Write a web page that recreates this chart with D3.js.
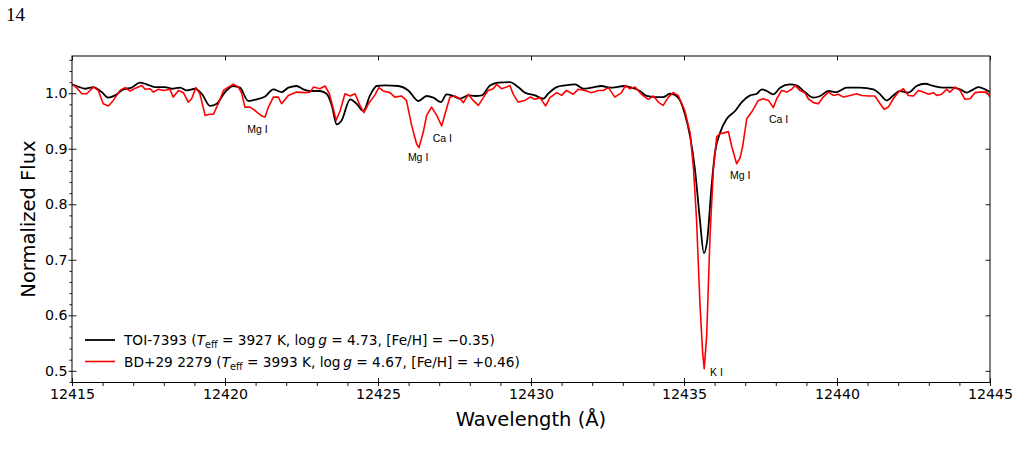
<!DOCTYPE html>
<html>
<head>
<meta charset="utf-8">
<script src="https://cdn.jsdelivr.net/npm/d3@7"></script>
<style>
    body { margin: 0; background: #ffffff; }
    svg text { font-family: "DejaVu Sans", sans-serif; }
</style>
</head>
<body>
<div id="spectrum-plot"></div>
<script>
// Spectra: [wavelength (Å), normalized flux]
const toiSpectrum = [
    [12415.00, 1.016], [12415.15, 1.013], [12415.43, 1.008], [12415.70, 1.011], [12415.97, 1.002],
    [12416.19, 0.992], [12416.41, 0.996], [12416.68, 1.007], [12416.95, 1.010], [12417.22, 1.019],
    [12417.44, 1.016], [12417.71, 1.011], [12418.04, 1.011], [12418.26, 1.008], [12418.53, 1.010],
    [12418.75, 1.005], [12419.02, 1.008], [12419.24, 0.999], [12419.51, 0.977], [12419.73, 0.981],
    [12420.00, 1.002], [12420.27, 1.013], [12420.49, 1.010], [12420.76, 0.986], [12421.04, 0.989],
    [12421.31, 0.994], [12421.58, 1.007], [12421.85, 1.002], [12422.07, 1.010], [12422.34, 1.013],
    [12422.56, 1.007], [12422.78, 1.004], [12423.10, 1.004], [12423.32, 0.999], [12423.49, 0.978],
    [12423.65, 0.944], [12423.81, 0.951], [12424.09, 0.989], [12424.30, 0.981], [12424.52, 0.968],
    [12424.74, 0.996], [12424.96, 1.013], [12425.23, 1.014], [12425.66, 1.013], [12425.99, 1.005],
    [12426.32, 0.986], [12426.59, 0.995], [12426.81, 0.992], [12427.06, 0.984], [12427.24, 0.998],
    [12427.46, 0.995], [12427.68, 0.990], [12427.95, 0.996], [12428.17, 0.995], [12428.39, 0.996],
    [12428.66, 1.014], [12428.93, 1.019], [12429.31, 1.020], [12429.58, 1.011], [12429.80, 1.001],
    [12430.13, 0.996], [12430.40, 0.990], [12430.56, 0.999], [12430.84, 1.011], [12431.11, 1.014],
    [12431.44, 1.016], [12431.71, 1.008], [12431.98, 1.010], [12432.31, 1.013], [12432.58, 1.010],
    [12432.80, 1.011], [12433.02, 1.013], [12433.29, 1.010], [12433.56, 1.004], [12433.78, 0.995],
    [12434.05, 0.993], [12434.32, 0.993], [12434.54, 0.999], [12434.70, 0.997], [12434.87, 0.987],
    [12435.03, 0.962], [12435.20, 0.922], [12435.36, 0.862], [12435.52, 0.772], [12435.65, 0.712],
    [12435.76, 0.736], [12435.90, 0.832], [12436.01, 0.892], [12436.18, 0.929], [12436.40, 0.954],
    [12436.67, 0.968], [12436.89, 0.984], [12437.16, 0.996], [12437.38, 0.999], [12437.54, 1.007],
    [12437.70, 1.004], [12437.92, 0.998], [12438.14, 1.010], [12438.46, 1.016], [12438.68, 1.014],
    [12438.95, 1.002], [12439.23, 0.992], [12439.45, 0.995], [12439.72, 1.004], [12439.99, 1.002],
    [12440.32, 1.010], [12440.75, 1.010], [12441.19, 1.007], [12441.41, 0.998], [12441.62, 0.987],
    [12441.84, 0.996], [12442.06, 1.004], [12442.33, 1.001], [12442.60, 1.013], [12442.88, 1.017],
    [12443.15, 1.013], [12443.48, 1.010], [12443.80, 1.010], [12444.02, 1.007], [12444.24, 1.001],
    [12444.40, 1.005], [12444.62, 1.011], [12444.84, 1.007], [12445.00, 1.002]
];

const bdSpectrum = [
    [12415.00, 1.016], [12415.15, 1.010], [12415.32, 0.999], [12415.48, 0.999], [12415.70, 1.011],
    [12415.86, 1.005], [12416.02, 0.981], [12416.19, 0.977], [12416.35, 0.987], [12416.57, 1.005],
    [12416.73, 1.010], [12416.90, 1.004], [12417.11, 1.010], [12417.28, 1.014], [12417.39, 1.007],
    [12417.55, 1.008], [12417.66, 1.002], [12417.82, 1.007], [12417.99, 1.005], [12418.20, 1.007],
    [12418.31, 0.993], [12418.48, 1.005], [12418.64, 1.001], [12418.80, 0.984], [12418.91, 0.990],
    [12419.05, 1.010], [12419.18, 0.999], [12419.35, 0.960], [12419.51, 0.962], [12419.62, 0.962],
    [12419.78, 0.981], [12419.95, 1.005], [12420.11, 1.011], [12420.27, 1.016], [12420.44, 1.011],
    [12420.55, 0.999], [12420.65, 0.975], [12420.82, 0.975], [12420.93, 0.971], [12421.04, 0.966],
    [12421.20, 0.959], [12421.31, 0.957], [12421.42, 0.975], [12421.58, 0.993], [12421.74, 0.993],
    [12421.85, 0.981], [12422.07, 0.996], [12422.34, 1.002], [12422.61, 1.001], [12422.78, 1.002],
    [12422.89, 1.011], [12423.10, 1.008], [12423.27, 1.013], [12423.41, 0.999], [12423.54, 0.972],
    [12423.63, 0.951], [12423.76, 0.968], [12423.92, 0.999], [12424.09, 0.995], [12424.25, 0.999],
    [12424.41, 0.978], [12424.54, 0.965], [12424.69, 0.981], [12424.90, 0.997], [12425.03, 1.010],
    [12425.17, 1.004], [12425.39, 1.001], [12425.55, 0.993], [12425.77, 0.995], [12425.93, 0.987],
    [12426.10, 0.942], [12426.26, 0.909], [12426.34, 0.902], [12426.48, 0.930], [12426.59, 0.960],
    [12426.75, 0.975], [12426.92, 0.960], [12427.08, 0.941], [12427.21, 0.966], [12427.35, 0.993],
    [12427.51, 0.995], [12427.68, 0.990], [12427.79, 0.983], [12427.95, 0.998], [12428.11, 0.987],
    [12428.28, 0.978], [12428.44, 0.992], [12428.60, 1.005], [12428.77, 1.008], [12428.88, 1.016],
    [12429.04, 1.008], [12429.20, 1.011], [12429.31, 1.014], [12429.42, 0.998], [12429.58, 0.984],
    [12429.80, 0.987], [12429.97, 0.993], [12430.13, 0.989], [12430.29, 0.992], [12430.48, 0.977],
    [12430.62, 0.992], [12430.84, 1.001], [12431.00, 0.996], [12431.16, 1.005], [12431.38, 0.998],
    [12431.54, 1.007], [12431.76, 1.005], [12431.98, 1.001], [12432.20, 1.005], [12432.36, 1.005],
    [12432.53, 1.010], [12432.74, 0.993], [12432.96, 1.001], [12433.09, 1.014], [12433.23, 1.008],
    [12433.40, 1.011], [12433.61, 0.998], [12433.83, 0.989], [12434.00, 0.995], [12434.16, 0.984],
    [12434.32, 0.978], [12434.49, 0.993], [12434.65, 1.001], [12434.81, 0.996], [12435.03, 0.968],
    [12435.20, 0.928], [12435.31, 0.864], [12435.41, 0.772], [12435.52, 0.622], [12435.61, 0.532],
    [12435.66, 0.504], [12435.74, 0.562], [12435.85, 0.742], [12435.96, 0.862], [12436.07, 0.922],
    [12436.18, 0.927], [12436.34, 0.929], [12436.45, 0.931], [12436.56, 0.904], [12436.72, 0.873],
    [12436.83, 0.883], [12436.92, 0.905], [12437.05, 0.954], [12437.21, 0.966], [12437.43, 0.987],
    [12437.59, 0.990], [12437.76, 0.987], [12437.92, 0.974], [12438.03, 0.990], [12438.19, 1.005],
    [12438.36, 1.002], [12438.52, 1.007], [12438.63, 1.014], [12438.79, 1.005], [12438.95, 1.001],
    [12439.06, 0.990], [12439.23, 0.983], [12439.39, 0.981], [12439.55, 0.993], [12439.72, 1.002],
    [12439.88, 0.996], [12440.04, 0.998], [12440.21, 0.993], [12440.43, 0.996], [12440.64, 0.999],
    [12440.81, 0.996], [12441.02, 0.995], [12441.24, 0.995], [12441.41, 0.981], [12441.54, 0.971],
    [12441.68, 0.975], [12441.84, 0.990], [12442.01, 1.002], [12442.17, 1.008], [12442.33, 0.996],
    [12442.50, 0.995], [12442.66, 1.005], [12442.82, 1.002], [12442.99, 0.998], [12443.15, 1.001],
    [12443.26, 0.996], [12443.42, 0.998], [12443.58, 1.007], [12443.69, 1.002], [12443.86, 1.011],
    [12444.02, 1.005], [12444.18, 0.989], [12444.35, 0.990], [12444.51, 1.001], [12444.67, 1.002],
    [12444.89, 1.002], [12445.00, 0.993]
];

// Legend entries
const starNames = ['TOI-7393', 'BD+29 2279'];
const starTeff = ['3927', '3993'];
const starLogg = ['4.73', '4.67'];
const starFeH = ['\u22120.35', '+0.46'];
const starColors = ['#000000', '#ff0000'];

// Line identifications (placed in data coordinates)
const lineIds = ['Mg I', 'Mg I', 'Ca I', 'K I', 'Mg I', 'Ca I'];
const lineIdWave = [12421.06, 12426.31, 12427.10, 12436.06, 12436.84, 12438.09];
const lineIdFlux = [0.929, 0.878, 0.912, 0.4905, 0.846, 0.9465];

// Axes
const xDomain = [12415, 12445];
const yDomain = [0.479, 1.067];
const xMajorTicks = [12415, 12420, 12425, 12430, 12435, 12440, 12445];
const yMajorTicks = [0.5, 0.6, 0.7, 0.8, 0.9, 1.0];
const pageNumber = '14';

function createSpectrumPlot({
    width = 1029,
    height = 469,
    margin = { top: 56, right: 39, bottom: 86.5, left: 72 },
    container = '#spectrum-plot'
} = {}) {
    d3.select(container).selectAll('*').remove();

    const innerWidth = width - margin.left - margin.right;
    const innerHeight = height - margin.top - margin.bottom;

    const root = d3.select(container)
        .append('svg')
        .attr('width', width)
        .attr('height', height);

    // Page number of the paper
    root.append('text')
        .attr('x', 6)
        .attr('y', 20.5)
        .style('font-family', '"Liberation Serif", "DejaVu Serif", serif')
        .style('font-size', '19px')
        .text(pageNumber);

    const svg = root.append('g')
        .attr('transform', `translate(${margin.left},${margin.top})`);

    const xScale = d3.scaleLinear().domain(xDomain).range([0, innerWidth]);
    const yScale = d3.scaleLinear().domain(yDomain).range([innerHeight, 0]);

    // minor ticks: every 1 Å and every 0.02 in flux
    const xMinorTicks = d3.range(xDomain[0], xDomain[1] + 0.5, 1).filter(v => v % 5 !== 0);
    const yMinorTicks = d3.range(0.48, 1.067, 0.02).map(v => +v.toFixed(2))
        .filter(v => Math.abs(v * 10 - Math.round(v * 10)) > 1e-6);

    const styleAxis = g => {
        g.select('.domain').remove();
        g.selectAll('line').attr('stroke', '#000').attr('stroke-width', 0.9);
        g.attr('font-family', '"DejaVu Sans", sans-serif').attr('font-size', 14.2);
        g.selectAll('text').attr('fill', '#000');
    };

    // Bottom axis: labels + outward part of major ticks
    svg.append('g')
        .attr('transform', `translate(0,${innerHeight})`)
        .call(d3.axisBottom(xScale).tickValues(xMajorTicks).tickSize(3.5).tickPadding(2.5)
            .tickFormat(d3.format('d')))
        .call(styleAxis);
    // inward part of major ticks
    svg.append('g')
        .attr('transform', `translate(0,${innerHeight})`)
        .call(d3.axisBottom(xScale).tickValues(xMajorTicks).tickSize(-4.5).tickFormat(''))
        .call(styleAxis);
    // minor ticks
    svg.append('g')
        .attr('transform', `translate(0,${innerHeight})`)
        .call(d3.axisBottom(xScale).tickValues(xMinorTicks).tickSize(3.5).tickFormat(''))
        .call(styleAxis);
    // top ticks
    svg.append('g')
        .call(d3.axisTop(xScale).tickValues(xMajorTicks).tickSize(-4.5).tickFormat(''))
        .call(styleAxis);

    // Left axis
    svg.append('g')
        .call(d3.axisLeft(yScale).tickValues(yMajorTicks).tickSize(3.5).tickPadding(1)
            .tickFormat(d3.format('.1f')))
        .call(styleAxis);
    svg.append('g')
        .call(d3.axisLeft(yScale).tickValues(yMajorTicks).tickSize(-4.5).tickFormat(''))
        .call(styleAxis);
    svg.append('g')
        .call(d3.axisLeft(yScale).tickValues(yMinorTicks).tickSize(2.5).tickFormat(''))
        .call(styleAxis);
    // right ticks
    svg.append('g')
        .attr('transform', `translate(${innerWidth},0)`)
        .call(d3.axisRight(yScale).tickValues(yMajorTicks).tickSize(-4.5).tickFormat(''))
        .call(styleAxis);

    // Clip spectra to plot area
    svg.append('clipPath')
        .attr('id', 'plot-clip')
        .append('rect')
        .attr('width', innerWidth)
        .attr('height', innerHeight);

    const smoothLine = d3.line()
        .x(d => xScale(d[0]))
        .y(d => yScale(d[1]))
        .curve(d3.curveMonotoneX);

    const rawLine = d3.line()
        .x(d => xScale(d[0]))
        .y(d => yScale(d[1]));

    svg.append('path')
        .datum(toiSpectrum)
        .attr('clip-path', 'url(#plot-clip)')
        .attr('fill', 'none')
        .attr('stroke', starColors[0])
        .attr('stroke-width', 1.8)
        .attr('stroke-linejoin', 'round')
        .attr('d', smoothLine);

    svg.append('path')
        .datum(bdSpectrum)
        .attr('clip-path', 'url(#plot-clip)')
        .attr('fill', 'none')
        .attr('stroke', starColors[1])
        .attr('stroke-width', 1.6)
        .attr('stroke-linejoin', 'round')
        .attr('d', rawLine);

    // Line identifications
    lineIds.forEach((label, i) => {
        svg.append('text')
            .attr('x', xScale(lineIdWave[i]))
            .attr('y', yScale(lineIdFlux[i]))
            .attr('text-anchor', 'middle')
            .style('font-family', '"Liberation Sans", Arial, sans-serif')
            .style('font-size', '10.5px')
            .attr('fill', '#000')
            .text(label);
    });

    // Frame
    svg.append('rect')
        .attr('width', innerWidth)
        .attr('height', innerHeight)
        .attr('fill', 'none')
        .attr('stroke', '#000')
        .attr('stroke-width', 1);

    // Legend (no frame), lower left
    const legend = svg.append('g')
        .attr('transform', `translate(13,${innerHeight - 42.5})`);

    starNames.forEach((name, i) => {
        const row = legend.append('g').attr('transform', `translate(0,${i * 21.5})`);
        row.append('line')
            .attr('x1', 0).attr('x2', 30)
            .attr('y1', 0).attr('y2', 0)
            .attr('stroke', starColors[i])
            .attr('stroke-width', i === 0 ? 1.8 : 1.6);

        const t = row.append('text')
            .attr('x', 39)
            .attr('y', 5.2)
            .style('font-size', '13.7px')
            .attr('fill', '#000');
        t.append('tspan').text(`${name} (`);
        t.append('tspan').style('font-style', 'italic').text('T');
        t.append('tspan').attr('dy', 3).style('font-size', '9.6px').text('eff');
        t.append('tspan').attr('dy', -3).text(` = ${starTeff[i]} K, log\u2009`);
        t.append('tspan').style('font-style', 'italic').text('g');
        t.append('tspan').text(` = ${starLogg[i]}, [Fe/H] = ${starFeH[i]})`);
    });

    // Axis labels
    svg.append('text')
        .attr('x', innerWidth / 2)
        .attr('y', innerHeight + 43.5)
        .attr('text-anchor', 'middle')
        .style('font-size', '19.5px')
        .attr('fill', '#000')
        .text('Wavelength (\u00c5)');

    svg.append('text')
        .attr('transform', 'rotate(-90)')
        .attr('x', -(219 - margin.top))
        .attr('y', -margin.left + 35)
        .attr('text-anchor', 'middle')
        .style('font-size', '19.5px')
        .attr('fill', '#000')
        .text('Normalized Flux');
}

createSpectrumPlot();
</script>
</body>
</html>
